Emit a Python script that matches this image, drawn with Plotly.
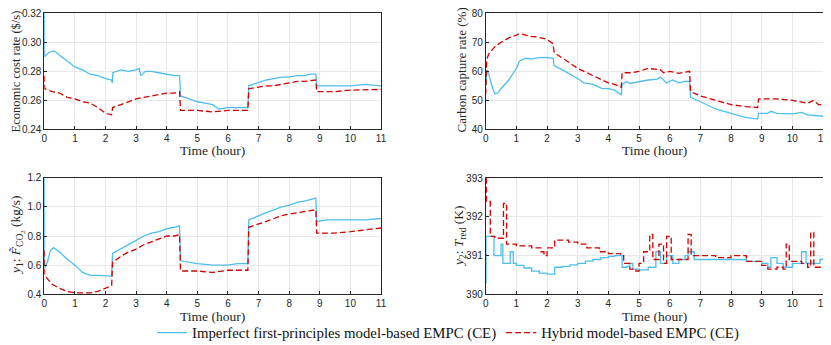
import plotly.graph_objects as go

# ---------------- data ----------------
x_ticks = list(range(0, 12))

# Economic cost rate ($/s)
t_cost_blue = [0, 0.01, 0.05, 0.15, 0.3, 0.4, 0.5, 0.75, 1.0, 1.25, 1.5, 1.75, 2.0, 2.2, 2.22, 2.24, 2.5, 2.75, 3.0, 3.1, 3.15, 3.3, 3.5, 3.75, 4.0, 4.25, 4.42,
               4.45, 4.6, 5.0, 5.25, 5.5, 5.7, 6.0, 6.3, 6.65, 6.68, 7.0, 7.25, 7.5, 7.75, 8.0, 8.25, 8.5, 8.7, 8.87, 8.9, 9.25, 9.5, 10.0, 10.5, 11.0]
cost_blue = [0.320, 0.290, 0.291, 0.293, 0.294, 0.293, 0.291, 0.287, 0.283, 0.281, 0.278, 0.277, 0.275, 0.274, 0.272, 0.279, 0.281, 0.280, 0.281, 0.282, 0.277, 0.280, 0.280, 0.279, 0.278, 0.277, 0.277,
             0.263, 0.262, 0.259, 0.258, 0.257, 0.254, 0.255, 0.255, 0.255, 0.270, 0.272, 0.274, 0.275, 0.276, 0.276, 0.277, 0.277, 0.278, 0.278, 0.270, 0.270, 0.270, 0.270, 0.271, 0.270]

t_cost_red = [0, 0.01, 0.25, 0.5, 0.75, 1.0, 1.25, 1.5, 1.75, 2.0, 2.2, 2.23, 2.5, 2.75, 3.0, 3.25, 3.5, 3.75, 4.0, 4.25, 4.42,
              4.45, 4.75, 5.0, 5.5, 6.0, 6.3, 6.65, 6.68, 7.0, 7.25, 7.5, 7.75, 8.0, 8.25, 8.5, 8.87, 8.9, 9.25, 9.5, 10.0, 10.5, 11.0]
cost_red = [0.277, 0.268, 0.266, 0.265, 0.262, 0.261, 0.259, 0.258, 0.255, 0.251, 0.250, 0.255, 0.257, 0.259, 0.261, 0.262, 0.263, 0.264, 0.265, 0.265, 0.266,
            0.253, 0.253, 0.253, 0.252, 0.253, 0.253, 0.253, 0.268, 0.269, 0.270, 0.270, 0.271, 0.272, 0.273, 0.273, 0.274, 0.266, 0.266, 0.266, 0.267, 0.267, 0.2675]

# Carbon capture rate (%)
t_cap_blue = [0, 0.05, 0.1, 0.2, 0.3, 0.4, 0.5, 0.75, 1.0, 1.05, 1.1, 1.3, 1.5, 1.75, 2.0, 2.2, 2.23, 2.5, 2.75, 3.0, 3.2, 3.5, 3.8, 4.0, 4.2, 4.42,
              4.45, 4.6, 4.7, 5.0, 5.3, 5.6, 5.7, 5.9, 6.1, 6.3, 6.5, 6.65, 6.68, 7.0, 7.5, 8.0, 8.5, 8.87, 8.9, 9.2, 9.3, 9.5, 10.0, 10.3, 10.5, 11.0]
cap_blue = [55.0, 60.5, 59.0, 55.0, 52.2, 52.5, 54.0, 57.0, 61.0, 62.0, 63.5, 64.5, 64.3, 64.7, 64.8, 64.5, 62.0, 60.5, 59.0, 57.5, 56.0, 55.5, 54.0, 54.0, 53.5, 52.0,
            55.5, 56.5, 55.8, 56.5, 57.0, 57.3, 58.0, 56.0, 57.0, 56.0, 56.5, 56.5, 51.0, 49.5, 47.0, 45.5, 44.0, 43.5, 45.5, 45.5, 46.2, 45.5, 45.3, 45.8, 45.0, 44.5]

t_cap_red = [0, 0.01, 0.03, 0.1, 0.3, 0.5, 0.75, 1.0, 1.1, 1.5, 1.7, 2.0, 2.2, 2.23, 2.5, 3.0, 3.5, 4.0, 4.2, 4.42,
             4.45, 4.75, 5.0, 5.3, 5.7, 5.8, 6.0, 6.3, 6.65, 6.68, 7.0, 7.5, 8.0, 8.5, 8.87, 8.9, 9.5, 10.0, 10.5, 10.7, 10.85, 11.0]
cap_red = [52.0, 62.0, 64.0, 66.0, 68.5, 70.0, 71.5, 72.5, 73.0, 72.0, 71.8, 71.0, 69.5, 66.5, 64.5, 61.0, 58.5, 56.0, 55.5, 54.5,
           59.5, 59.5, 60.0, 61.0, 60.5, 59.5, 60.0, 59.3, 60.0, 53.0, 51.5, 50.0, 48.5, 47.8, 47.5, 50.5, 50.5, 50.0, 49.0, 50.0, 48.5, 48.5]

# y1: F_CO2 (kg/s)
t_f_blue = [0, 0.01, 0.1, 0.2, 0.3, 0.5, 0.75, 1.0, 1.25, 1.5, 1.75, 2.0, 2.2, 2.23, 2.5, 2.75, 3.0, 3.25, 3.5, 3.75, 4.0, 4.25, 4.42,
            4.45, 4.75, 5.0, 5.5, 6.0, 6.3, 6.65, 6.68, 7.0, 7.25, 7.5, 7.75, 8.0, 8.25, 8.5, 8.87, 8.9, 9.25, 9.5, 10.0, 10.5, 11.0]
f_blue = [1.2, 0.58, 0.62, 0.70, 0.72, 0.69, 0.64, 0.60, 0.55, 0.53, 0.53, 0.53, 0.525, 0.68, 0.71, 0.74, 0.77, 0.80, 0.82, 0.83, 0.85, 0.86, 0.87,
          0.63, 0.62, 0.61, 0.60, 0.60, 0.61, 0.61, 0.91, 0.94, 0.96, 0.98, 1.00, 1.01, 1.03, 1.04, 1.06, 0.90, 0.91, 0.91, 0.91, 0.91, 0.92]

t_f_red = [0, 0.01, 0.25, 0.5, 0.75, 1.0, 1.25, 1.5, 1.75, 2.0, 2.2, 2.23, 2.5, 2.75, 3.0, 3.25, 3.5, 3.75, 4.0, 4.25, 4.42,
           4.45, 4.75, 5.0, 5.5, 6.0, 6.3, 6.65, 6.68, 7.0, 7.25, 7.5, 7.75, 8.0, 8.25, 8.5, 8.87, 8.9, 9.25, 9.5, 10.0, 10.5, 11.0]
f_red = [0.70, 0.53, 0.47, 0.44, 0.42, 0.41, 0.41, 0.41, 0.42, 0.44, 0.46, 0.62, 0.66, 0.69, 0.71, 0.74, 0.76, 0.78, 0.80, 0.80, 0.81,
         0.56, 0.56, 0.56, 0.55, 0.565, 0.565, 0.565, 0.86, 0.88, 0.90, 0.92, 0.94, 0.95, 0.96, 0.97, 0.98, 0.82, 0.82, 0.82, 0.83, 0.845, 0.855]

# y2: T_red (K)
t_t_blue = [0, 0.01, 0.27, 0.5, 0.56, 0.8, 0.9, 1.0, 1.25, 1.5, 1.75, 2.0, 2.25, 2.5, 2.75, 3.0, 3.25, 3.5, 3.75, 4.0, 4.2, 4.45, 4.6, 4.7, 4.8,
            5.0, 5.3, 5.55, 5.7, 5.9, 6.1, 6.3, 6.5, 6.6, 6.8, 7.0, 7.5, 8.0, 8.5, 9.0, 9.2, 9.3, 9.5, 9.7, 10.0, 10.3, 10.45, 10.6, 10.9, 11.0]
t_blue = [390.3, 391.5, 391.0, 391.3, 390.8, 391.1, 390.8, 390.75, 390.68, 390.6, 390.55, 390.52, 390.7, 390.72, 390.76, 390.8, 390.86, 390.9, 390.95, 390.98, 391.0, 390.7, 390.72, 390.8, 390.65,
          390.63, 390.7, 391.1, 390.8, 391.0, 390.8, 390.9, 391.0, 391.1, 390.9, 390.9, 390.9, 390.9, 390.85, 390.8, 390.7, 390.95, 390.8, 390.7, 390.8, 391.1, 390.8, 390.8, 390.9, 390.9]

t_t_red = [0, 0.02, 0.15, 0.3, 0.58, 0.68, 1.0, 1.5, 1.8, 1.9, 2.0, 2.25, 2.7, 3.0, 3.3, 3.7, 4.0, 4.4, 4.5, 4.7, 4.9, 5.0, 5.15, 5.35, 5.45, 5.65, 5.8, 5.9, 6.05,
           6.3, 6.6, 6.7, 7.0, 7.5, 8.0, 8.5, 9.0, 9.2, 9.5, 9.7, 9.8, 9.9, 10.3, 10.5, 10.6, 10.7, 11.0]
t_red = [393.0, 392.4, 391.5, 391.45, 392.35, 391.3, 391.25, 391.2, 391.1, 391.0, 391.2, 391.4, 391.35, 391.3, 391.2, 391.1, 391.05, 391.0, 390.8, 390.65, 390.6, 390.8, 391.1, 391.55, 390.9, 391.3, 390.8, 391.5, 390.9,
         390.9, 391.55, 391.0, 391.0, 390.95, 391.0, 390.85, 390.75, 390.65, 390.7, 390.65, 391.3, 390.85, 390.8, 390.7, 391.6, 390.7, 390.7]

y_titles = ["Economic cost rate ($/s)", "Carbon capture rate (%)",
            "<i>y</i><sub>1</sub>: <i>F̃</i><sub>CO<sub>2</sub></sub> (kg/s)",
            "<i>y</i><sub>2</sub>: <i>T</i><sub>red</sub> (K)"]
x_title = "Time (hour)"
names = ["Imperfect first-principles model-based EMPC (CE)", "Hybrid model-based EMPC (CE)"]

# ---------------- figure ----------------
BLUE = "#4DBEEE"
RED = "#D00000"
SERIF = "Liberation Serif, DejaVu Serif, serif"
SANS = "Liberation Sans, Arial, sans-serif"
INK = "#262626"

fig = go.Figure()

panels = [
    ("x", "y", t_cost_blue, cost_blue, t_cost_red, cost_red, "linear"),
    ("x2", "y2", t_cap_blue, cap_blue, t_cap_red, cap_red, "linear"),
    ("x3", "y3", t_f_blue, f_blue, t_f_red, f_red, "linear"),
    ("x4", "y4", t_t_blue, t_blue, t_t_red, t_red, "hv"),
]
for i, (xa, ya, tb, vb, tr, vr, shape) in enumerate(panels):
    fig.add_trace(go.Scatter(x=tb, y=vb, xaxis=xa, yaxis=ya, mode="lines",
                             line=dict(color=BLUE, width=1.3, shape=shape),
                             name=names[0], showlegend=(i == 0), legendrank=1))
    fig.add_trace(go.Scatter(x=tr, y=vr, xaxis=xa, yaxis=ya, mode="lines",
                             line=dict(color=RED, width=1.3, dash="6px,3px", shape=shape),
                             name=names[1], showlegend=(i == 0), legendrank=2))

# the page keeps an 8px body margin: page px = figure px + 8
W, H = 831, 345
OFF = 8
def px(p):
    return (p - OFF) / W
def py(p):
    return 1 - (p - OFF) / H
def xd(a, b):
    return [px(a), px(b)]
def yd(top, bot):
    return [py(bot), py(top)]

axis_common = dict(showline=True, linecolor=INK, linewidth=0.8, mirror=True,
                   ticks="inside", ticklen=3, tickcolor=INK, automargin=False,
                   ticklabeloverflow="allow",
                   showgrid=True, gridcolor="#E8E8E8", gridwidth=0.8, zeroline=False,
                   tickfont=dict(family=SANS, size=10, color=INK))

def xaxis(dom, anchor):
    return dict(domain=dom, anchor=anchor, range=[0, 11], tickvals=x_ticks, **axis_common)

def yaxis(dom, anchor, rng, dtick, fmt):
    return dict(domain=dom, anchor=anchor, range=rng, dtick=dtick, tick0=rng[0], tickformat=fmt,
                **axis_common)

L = (44.3, 381.0)
R = (485.7, 823.0)
T = (13.3, 129.3)
B = (177.7, 294.3)

fig.update_layout(
    width=W, height=H,
    margin=dict(l=0, r=0, t=0, b=0, autoexpand=False),
    paper_bgcolor="white", plot_bgcolor="white",
    xaxis=xaxis(xd(*L), "y"),
    yaxis=yaxis(yd(*T), "x", [0.24, 0.32], 0.02, ".2f"),
    xaxis2=xaxis(xd(*R), "y2"),
    yaxis2=yaxis(yd(*T), "x2", [40, 80], 10, "d"),
    xaxis3=xaxis(xd(*L), "y3"),
    yaxis3=yaxis(yd(*B), "x3", [0.4, 1.2], 0.2, ".1f"),
    xaxis4=xaxis(xd(*R), "y4"),
    yaxis4=yaxis(yd(178.3, 294.3), "x4", [390, 393], 1, "d"),
    legend=dict(orientation="h", x=px(448), xanchor="center", y=py(333), yanchor="middle",
                bgcolor="rgba(0,0,0,0)", borderwidth=0,
                font=dict(family=SERIF, size=14.8, color="#111111"),
                itemwidth=30, tracegroupgap=0),
)

title_font = dict(family=SERIF, size=13.5, color=INK)
# x-axis titles
for cx, cy in [((L[0] + L[1]) / 2, 150.5), ((R[0] + R[1]) / 2, 150.5),
               ((L[0] + L[1]) / 2, 316.5), ((R[0] + R[1]) / 2, 316.5)]:
    fig.add_annotation(text=x_title, xref="paper", yref="paper", x=px(cx), y=py(cy),
                       xanchor="center", yanchor="middle", showarrow=False, font=title_font)
# y-axis titles (kept inside the drawable area)
for txt, cx, cy, fs in [(y_titles[0], 16, 71.5, 12.5), (y_titles[1], 461, 70.5, 13),
                        (y_titles[2], 17, 236, 13.5), (y_titles[3], 459, 236, 13.5)]:
    fig.add_annotation(text=txt, xref="paper", yref="paper", x=px(cx), y=py(cy), textangle=-90,
                       xanchor="center", yanchor="middle", showarrow=False,
                       font=dict(family=SERIF, size=fs, color=INK))

fig.write_html("out.html")
